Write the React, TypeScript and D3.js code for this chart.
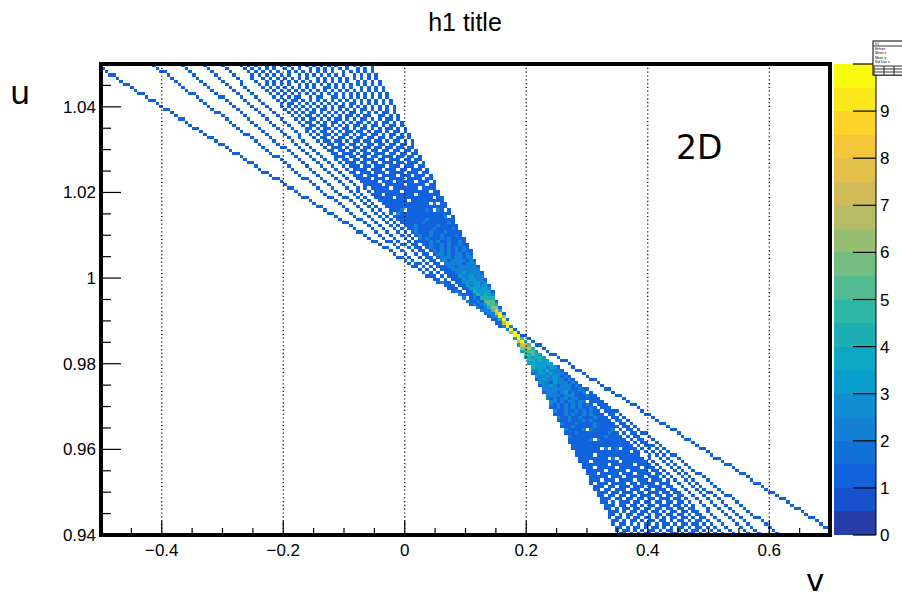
import React from "react";
import * as d3 from "d3";

const W = 902;
const H = 600;

// Axis ranges and binning of the 2D histogram
const vRange = [-0.5, 0.7];
const uRange = [0.94, 1.05];
const nBinsV = 200;
const nBinsU = 150;

// Each line of the fan: v where it meets u = 1.05 (top) and u = 0.94 (bottom)
const lineTopV = [
  -0.511, -0.415, -0.369, -0.331, -0.303, -0.272, -0.258, -0.245, -0.232, -0.219, -0.204,
  -0.191, -0.178, -0.164, -0.151, -0.138, -0.125, -0.112, -0.097, -0.084, -0.071, -0.057,
];
const lineBottomV = [
  0.715, 0.618, 0.588, 0.565, 0.544, 0.523, 0.513, 0.501, 0.491, 0.48, 0.47,
  0.46, 0.448, 0.439, 0.427, 0.417, 0.407, 0.396, 0.386, 0.374, 0.364, 0.355,
];

const xTicks = [-0.4, -0.2, 0, 0.2, 0.4, 0.6];
const xMinorStep = 0.05;
const yTicks = [0.94, 0.96, 0.98, 1, 1.02, 1.04];
const yMinorStep = 0.005;
const zTicks = [0, 1, 2, 3, 4, 5, 6, 7, 8, 9, 10];
const zLabels = [0, 1, 2, 3, 4, 5, 6, 7, 8, 9];
const zMax = 10;
const nContours = 20;

const titleText = "h1 title";
const xTitle = "v";
const yTitle = "u";
const noteText = "2D";
const statsRows = ["h1", "Entries", "Mean x", "Mean y", "Std Dev x"];

// ROOT kBird palette
const birdStops = [0, 0.125, 0.25, 0.375, 0.5, 0.625, 0.75, 0.875, 1];
const birdR = [0.2082, 0.0592, 0.078, 0.0232, 0.1802, 0.5301, 0.8186, 0.9956, 0.9764];
const birdG = [0.1664, 0.3599, 0.5041, 0.6419, 0.7178, 0.7492, 0.7328, 0.7862, 0.9832];
const birdB = [0.5293, 0.8684, 0.8385, 0.7914, 0.6425, 0.4662, 0.3499, 0.1968, 0.0539];

const rScale = d3.scaleLinear().domain(birdStops).range(birdR);
const gScale = d3.scaleLinear().domain(birdStops).range(birdG);
const bScale = d3.scaleLinear().domain(birdStops).range(birdB);
const bird = (t: number) =>
  d3.rgb(rScale(t) * 255, gScale(t) * 255, bScale(t) * 255).formatHex();

const bandColors = d3.range(nContours).map((i) => {
  const idx = Math.min(254, Math.floor(((i + 0.99) * 255) / nContours));
  return bird(idx / 254);
});

const frame = { left: 101, right: 830, top: 64, bottom: 535 };
const xScale = d3.scaleLinear().domain(vRange).range([frame.left, frame.right]);
const yScale = d3.scaleLinear().domain(uRange).range([frame.bottom, frame.top]);
const zScale = d3.scaleLinear().domain([0, zMax]).range([frame.bottom, frame.top]);

function buildHistogram() {
  const binW = (vRange[1] - vRange[0]) / nBinsV;
  const binH = (uRange[1] - uRange[0]) / nBinsU;
  const du = uRange[1] - uRange[0];
  const counts = new Map<number, number>();
  lineTopV.forEach((t, k) => {
    const b = lineBottomV[k];
    const cellsOfLine = new Set<number>();
    const rows = du / binH;
    const cols = Math.abs(t - b) / binW;
    if (rows >= cols) {
      for (let j = 0; j < nBinsU; j++) {
        const u = uRange[0] + (j + 0.5) * binH;
        const v = b + ((t - b) * (u - uRange[0])) / du;
        const i = Math.floor((v - vRange[0]) / binW);
        if (i >= 0 && i < nBinsV) cellsOfLine.add(j * nBinsV + i);
      }
    } else {
      for (let i = 0; i < nBinsV; i++) {
        const v = vRange[0] + (i + 0.5) * binW;
        const u = uRange[0] + ((v - b) / (t - b)) * du;
        const j = Math.floor((u - uRange[0]) / binH);
        if (j >= 0 && j < nBinsU) cellsOfLine.add(j * nBinsV + i);
      }
    }
    cellsOfLine.forEach((c) => counts.set(c, (counts.get(c) || 0) + 1));
  });
  const out: { i: number; j: number; c: number }[] = [];
  counts.forEach((c, key) => {
    out.push({ i: key % nBinsV, j: Math.floor(key / nBinsV), c });
  });
  return { out, binW, binH };
}

const { out: cells, binW, binH } = buildHistogram();

const fmtY = (v: number) => String(+v.toFixed(2));
const fmtX = (v: number) => {
  const s = String(+v.toFixed(1));
  return s.startsWith("-") ? "\u2212" + s.slice(1) : s;
};

export default function App() {
  const xMinor = d3.range(vRange[0], vRange[1] + 1e-9, xMinorStep);
  const yMinor = d3.range(uRange[0], uRange[1] + 1e-9, yMinorStep);
  const labelFont = "'Liberation Sans', Arial, sans-serif";
  const bigFont = "'DejaVu Sans', sans-serif";

  return (
    <svg
      width={W}
      height={H}
      style={{ position: "absolute", left: 0, top: 0, background: "#fff" }}
    >
      <rect x={0} y={0} width={W} height={H} fill="#fff" />
      {/* cells */}
      <g shapeRendering="crispEdges">
        {cells.map((d) => {
          const v0 = vRange[0] + d.i * binW;
          const u0 = uRange[0] + d.j * binH;
          const band = Math.max(
            0,
            Math.min(nContours - 1, Math.floor(0.01 + (d.c * nContours) / zMax))
          );
          const x0 = xScale(v0);
          const x1 = xScale(v0 + binW);
          const y0 = yScale(u0 + binH);
          const y1 = yScale(u0);
          return (
            <rect
              key={d.j * nBinsV + d.i}
              x={x0}
              y={y0}
              width={x1 - x0}
              height={y1 - y0}
              fill={bandColors[band]}
            />
          );
        })}
      </g>

      {/* grid */}
      <g>
        {xTicks.map((t) => (
          <line
            key={"g" + t}
            x1={xScale(t)}
            x2={xScale(t)}
            y1={frame.top}
            y2={frame.bottom}
            stroke="#000"
            strokeWidth={1.2}
            strokeDasharray="1.2,2.6"
          />
        ))}
      </g>

      {/* axis ticks */}
      <g stroke="#000" strokeWidth={1.2}>
        {xMinor.map((t) => {
          const major = xTicks.some((m) => Math.abs(m - t) < 1e-6);
          return (
            <line
              key={"xt" + t.toFixed(3)}
              x1={xScale(t)}
              x2={xScale(t)}
              y1={frame.bottom}
              y2={frame.bottom - (major ? 14 : 7)}
            />
          );
        })}
        {yMinor.map((t) => {
          const major = yTicks.some((m) => Math.abs(m - t) < 1e-6);
          return (
            <line
              key={"yt" + t.toFixed(4)}
              x1={frame.left}
              x2={frame.left + (major ? 20 : 10)}
              y1={yScale(t)}
              y2={yScale(t)}
            />
          );
        })}
      </g>

      {/* frame */}
      <rect
        x={frame.left}
        y={frame.top}
        width={frame.right - frame.left}
        height={frame.bottom - frame.top}
        fill="none"
        stroke="#000"
        strokeWidth={4}
      />

      {/* tick labels */}
      <g fontFamily={labelFont} fontSize={17} fill="#000">
        {xTicks.map((t) => (
          <text key={"xl" + t} x={xScale(t)} y={556} textAnchor="middle">
            {fmtX(t)}
          </text>
        ))}
        {yTicks.map((t) => (
          <text key={"yl" + t} x={96} y={yScale(t) + 6} textAnchor="end">
            {fmtY(t)}
          </text>
        ))}
      </g>

      {/* color bar */}
      <g shapeRendering="crispEdges">
        {bandColors.map((c, i) => {
          const z0 = (i * zMax) / nContours;
          const z1 = ((i + 1) * zMax) / nContours;
          return (
            <rect
              key={"cb" + i}
              x={834}
              y={zScale(z1)}
              width={42}
              height={zScale(z0) - zScale(z1)}
              fill={c}
            />
          );
        })}
      </g>
      <line x1={876} x2={876} y1={frame.top} y2={frame.bottom} stroke="#000" strokeWidth={1} />
      <g stroke="#000" strokeWidth={1.2}>
        {zTicks.map((z) => (
          <line key={"zt" + z} x1={853} x2={876} y1={zScale(z)} y2={zScale(z)} />
        ))}
      </g>
      <g fontFamily={labelFont} fontSize={17} fill="#000">
        {zLabels.map((z) => (
          <text key={"zl" + z} x={880} y={zScale(z) + 6}>
            {z}
          </text>
        ))}
      </g>

      {/* stats box */}
      <g>
        <rect x={873} y={41} width={32} height={34} fill="#fff" stroke="#000" strokeWidth={1} />
        <line x1={873} x2={905} y1={46} y2={46} stroke="#000" strokeWidth={0.8} />
        <g fontFamily={labelFont} fontSize={3.4} fill="#000">
          {statsRows.map((r, k) => (
            <text key={"st" + k} x={875} y={45 + k * 4.6}>
              {r}
            </text>
          ))}
        </g>
        <g stroke="#000" strokeWidth={0.8} fill="none">
          <rect x={874} y={66} width={30} height={9} fill="#fff" />
          {[1, 2].map((r) => (
            <line key={"sr" + r} x1={874} x2={904} y1={66 + r * 3} y2={66 + r * 3} />
          ))}
          {[1, 2].map((c) => (
            <line key={"sc" + c} x1={874 + c * 10} x2={874 + c * 10} y1={66} y2={75} />
          ))}
        </g>
      </g>

      {/* titles */}
      <text x={465} y={31} textAnchor="middle" fontFamily={labelFont} fontSize={25} fill="#000">
        {titleText}
      </text>
      <text x={10} y={104} fontFamily={bigFont} fontSize={32} fill="#000">
        {yTitle}
      </text>
      <text x={806} y={591} fontFamily={bigFont} fontSize={31} fill="#000">
        {xTitle}
      </text>
      <text x={676} y={159} fontFamily={bigFont} fontSize={33} fill="#000">
        {noteText}
      </text>
    </svg>
  );
}
